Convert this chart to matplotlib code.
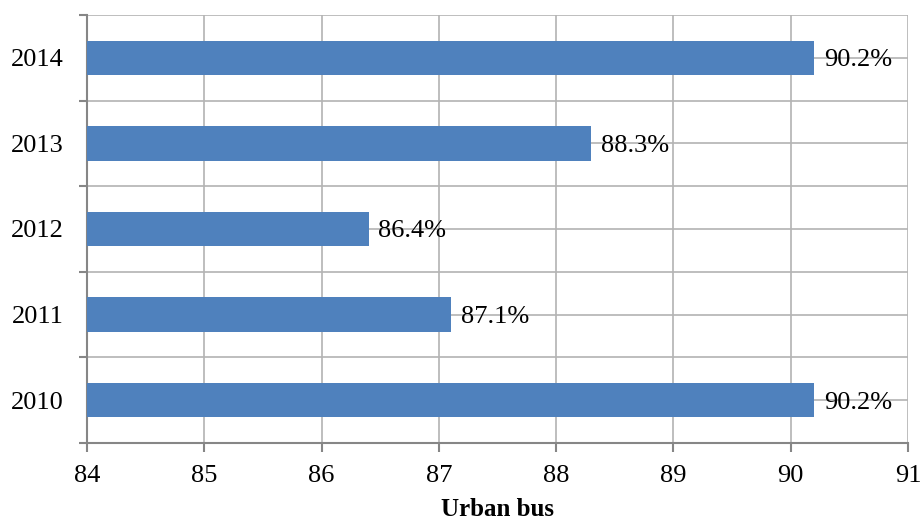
import matplotlib
matplotlib.use("Agg")
import matplotlib.pyplot as plt
from matplotlib.ticker import FixedLocator

years = ["2010", "2011", "2012", "2013", "2014"]
values = [90.2, 87.1, 86.4, 88.3, 90.2]
labels = ["90.2%", "87.1%", "86.4%", "88.3%", "90.2%"]
xticks = [84, 85, 86, 87, 88, 89, 90, 91]
title = "Urban bus"

plt.rcParams['font.family'] = ['Liberation Serif', 'DejaVu Serif']

fig = plt.figure(figsize=(9.22, 5.24), dpi=100)
ax = fig.add_axes([0.0944, 0.1546, 0.8904, 0.8168])

pos = list(range(len(years)))
ax.barh(pos, [v - 84 for v in values], left=84, height=0.4, color="#4F81BD", zorder=3)
for p, v, lab in zip(pos, values, labels):
    ax.text(v + 0.085, p, lab, va="center_baseline", ha="left", fontsize=19, zorder=4)

ax.set_xlim(84, 91)
ax.set_ylim(-0.5, len(years) - 0.5)
ax.set_xticks(xticks)
ax.set_xticklabels([str(t) for t in xticks], fontsize=19)
ax.set_yticks(pos)
ax.set_yticklabels(years, fontsize=19)
ax.yaxis.set_minor_locator(FixedLocator([p - 0.5 for p in range(len(years) + 1)]))

ax.tick_params(axis='y', which='major', length=0, pad=17)
ax.tick_params(axis='y', which='minor', length=6, color="#868686", width=1.5)
ax.tick_params(axis='x', which='major', length=6.5, color="#868686", width=1.5, pad=9)

ax.grid(True, axis='x', which='major', color="#b3b3b3", linewidth=1.2, zorder=0)
ax.grid(True, axis='y', which='both', color="#b3b3b3", linewidth=1.2, zorder=0)
ax.set_axisbelow(True)

for s in ["top", "right"]:
    ax.spines[s].set_visible(False)
for s in ["left", "bottom"]:
    ax.spines[s].set_color("#868686")
    ax.spines[s].set_linewidth(1.5)

ax.set_xlabel(title, fontsize=18, fontweight="bold", labelpad=8)

fig.savefig("out.png", dpi=100)
